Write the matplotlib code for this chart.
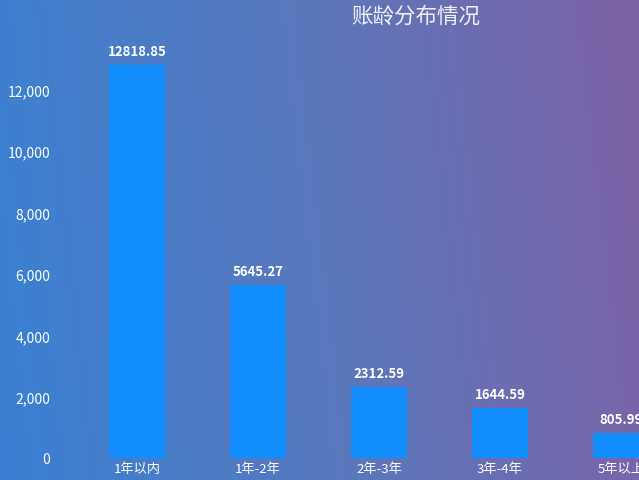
import matplotlib
matplotlib.use("Agg")
import matplotlib.pyplot as plt
import numpy as np
from matplotlib.colors import LinearSegmentedColormap

plt.rcParams['font.family'] = ['Noto Sans CJK SC', 'DejaVu Sans']

categories = ['1年以内', '1年-2年', '2年-3年', '3年-4年', '5年以上']
values = [12818.85, 5645.27, 2312.59, 1644.59, 805.99]
yticks = [0, 2000, 4000, 6000, 8000, 10000, 12000]
ytick_labels = ['0', '2,000', '4,000', '6,000', '8,000', '10,000', '12,000']
title = '账龄分布情况'

W, H = 639, 481
fig = plt.figure(figsize=(W / 100, H / 100), dpi=100)

# gradient background
bg = fig.add_axes([0, 0, 1, 1], zorder=0)
cmap = LinearSegmentedColormap.from_list('bg', ['#3a80d3', '#5a78bd', '#7e62a6'])
xx = np.linspace(0, 1, 256)
yy = np.linspace(0, 1, 64)
X, Y = np.meshgrid(xx, yy)
bg.imshow(X * 0.92 + (1 - Y) * 0.08, cmap=cmap, aspect='auto', extent=[0, 1, 0, 1], origin='upper')
bg.set_axis_off()

left_px, right_px = 76.5, 639
bottom_px, top_px = 459, 29.6
ax = fig.add_axes([left_px / W, (H - bottom_px) / H, (right_px - left_px) / W, (bottom_px - top_px) / H], zorder=1)
ax.patch.set_alpha(0)
x = np.arange(len(categories))
ax.bar(x, values, width=0.46, color='#128efc', zorder=2)
ax.set_xlim(-0.5, 4.149)
ax.set_ylim(0, 14000)
ax.set_yticks(yticks)
ax.set_yticklabels(ytick_labels, color='white', fontsize=10)
ax.set_xticks(x)
ax.set_xticklabels(categories, color='white', fontsize=9.5)
ax.tick_params(axis='both', length=0)
ax.tick_params(axis='y', pad=19)
ax.tick_params(axis='x', pad=3)
for s in ax.spines.values():
    s.set_visible(False)
for xi, v in zip(x, values):
    ax.annotate(f'{v:.2f}', (xi, v), xytext=(0, 5), textcoords='offset points',
                ha='center', va='bottom', color='white', fontsize=9.5, fontweight='bold')

fig.text(416 / W, 1 - 17 / H, title, ha='center', va='center', color='#f0f0f5', fontsize=15.5)

fig.savefig('out.png', dpi=100)
